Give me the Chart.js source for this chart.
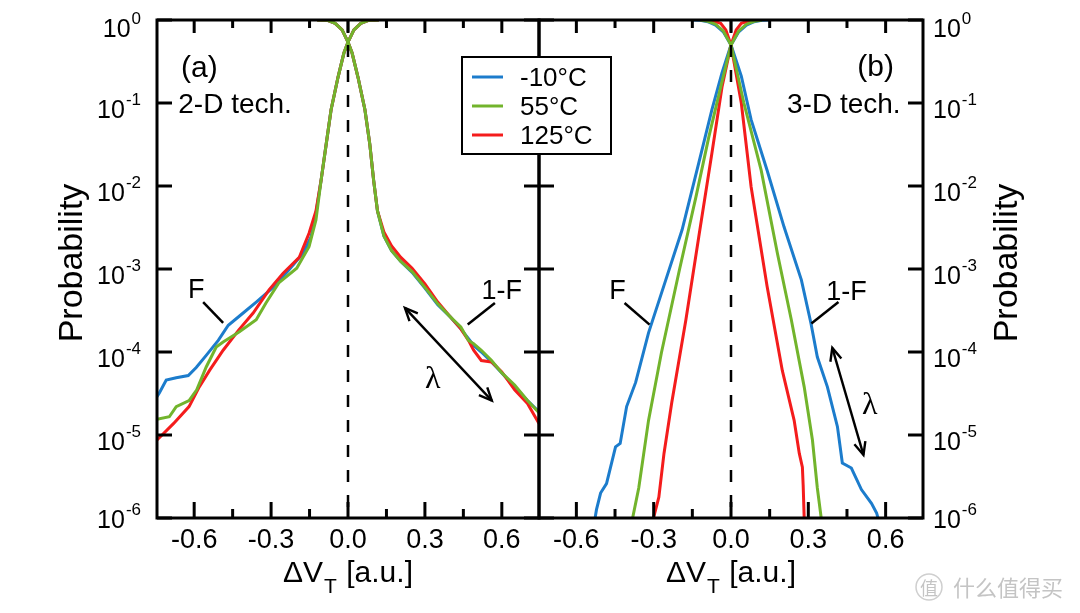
<!doctype html>
<html lang="en">
<head>
<meta charset="utf-8">
<title>Probability vs dVT, 2-D and 3-D tech</title>
<script src="https://cdn.jsdelivr.net/npm/chart.js"></script>
<style>
  body { margin: 0; background: #fff; }
  #wrap { position: relative; width: 1080px; height: 613px; }
  canvas { position: absolute; left: 0; top: 0; }
</style>
</head>
<body>
<div id="wrap">
  <canvas id="chart2d" width="1080" height="613"></canvas>
  <canvas id="chart3d" width="1080" height="613"></canvas>
</div>
<script>
// --- data: [dVT, probability] ---
const temps = ['-10°C', '55°C', '125°C'];
const lineColors = ['#1c7ccc', '#72b42c', '#f41c1c'];
const yTickValues = [1e-6, 1e-5, 1e-4, 1e-3, 1e-2, 1e-1, 1];
const yTickExps = ['-6', '-5', '-4', '-3', '-2', '-1', '0'];
const xMajorTicks = [-0.6, -0.3, 0, 0.3, 0.6];
const xTickLabels = ['-0.6', '-0.3', '0.0', '0.3', '0.6'];
const xMinorTicks = [-0.45, -0.15, 0.15, 0.45];

// (a) 2-D tech, F
const f2dCold = [[-0.745, 2.9e-5], [-0.736, 3.2e-5], [-0.709, 4.6e-5], [-0.67, 4.9e-5], [-0.623, 5.2e-5], [-0.592, 6.5e-5], [-0.553, 9.1e-5], [-0.506, 1.38e-4], [-0.467, 2.1e-4], [-0.409, 2.95e-4], [-0.358, 4.0e-4], [-0.292, 6.0e-4], [-0.23, 9.8e-4], [-0.175, 1.55e-3], [-0.144, 2.45e-3], [-0.125, 4.7e-3], [-0.105, 1.17e-2], [-0.085, 3.2e-2], [-0.066, 8.3e-2], [-0.039, 0.204], [-0.016, 0.40], [0, 0.54], [0.023, 0.76], [0.05, 0.91], [0.08, 0.99], [0.12, 1]];
const f2dMid = [[-0.745, 1.55e-5], [-0.697, 1.66e-5], [-0.67, 2.2e-5], [-0.62, 2.6e-5], [-0.59, 3.5e-5], [-0.553, 6.6e-5], [-0.514, 1.15e-4], [-0.487, 1.32e-4], [-0.425, 1.74e-4], [-0.358, 2.45e-4], [-0.32, 3.9e-4], [-0.27, 6.8e-4], [-0.2, 1.02e-3], [-0.152, 1.86e-3], [-0.125, 3.9e-3], [-0.105, 1.17e-2], [-0.085, 3.2e-2], [-0.066, 8.3e-2], [-0.039, 0.204], [-0.016, 0.40], [0, 0.54], [0.023, 0.76], [0.05, 0.91], [0.08, 0.99], [0.12, 1]];
const f2dHot = [[-0.745, 8.7e-6], [-0.68, 1.38e-5], [-0.62, 2.2e-5], [-0.58, 3.8e-5], [-0.54, 6.0e-5], [-0.487, 1.05e-4], [-0.425, 1.86e-4], [-0.37, 2.95e-4], [-0.308, 5.6e-4], [-0.253, 8.9e-4], [-0.19, 1.38e-3], [-0.152, 2.7e-3], [-0.125, 5.0e-3], [-0.105, 1.17e-2], [-0.085, 3.2e-2], [-0.066, 8.3e-2], [-0.039, 0.204], [-0.016, 0.40], [0, 0.54], [0.023, 0.76], [0.05, 0.91], [0.08, 0.99], [0.12, 1]];
// (a) 2-D tech, 1-F
const g2dCold = [[-0.12, 1], [-0.08, 0.99], [-0.05, 0.91], [-0.023, 0.76], [0, 0.54], [0.016, 0.40], [0.039, 0.204], [0.066, 8.3e-2], [0.085, 3.2e-2], [0.1, 1.17e-2], [0.115, 5.0e-3], [0.14, 2.5e-3], [0.17, 1.66e-3], [0.206, 1.23e-3], [0.25, 9.1e-4], [0.3, 5.9e-4], [0.35, 3.7e-4], [0.4, 2.63e-4], [0.44, 1.9e-4], [0.47, 1.45e-4], [0.49, 1.2e-4], [0.52, 1.0e-4], [0.56, 7.6e-5], [0.6, 5.6e-5], [0.65, 3.8e-5], [0.7, 2.6e-5], [0.745, 1.9e-5]];
const g2dMid = [[-0.12, 1], [-0.08, 0.99], [-0.05, 0.91], [-0.023, 0.76], [0, 0.54], [0.016, 0.40], [0.039, 0.204], [0.066, 8.3e-2], [0.085, 3.2e-2], [0.1, 1.17e-2], [0.115, 5.0e-3], [0.14, 2.5e-3], [0.17, 1.66e-3], [0.206, 1.23e-3], [0.25, 9.3e-4], [0.3, 6.0e-4], [0.35, 3.8e-4], [0.4, 2.63e-4], [0.44, 2.0e-4], [0.47, 1.38e-4], [0.49, 1.26e-4], [0.52, 1.05e-4], [0.56, 7.9e-5], [0.6, 5.6e-5], [0.65, 4.0e-5], [0.7, 2.6e-5], [0.745, 1.86e-5]];
const g2dHot = [[-0.12, 1], [-0.08, 0.99], [-0.05, 0.91], [-0.023, 0.76], [0, 0.54], [0.016, 0.40], [0.039, 0.204], [0.066, 8.3e-2], [0.085, 3.2e-2], [0.1, 1.17e-2], [0.115, 5.0e-3], [0.14, 2.8e-3], [0.17, 1.9e-3], [0.206, 1.38e-3], [0.25, 1.02e-3], [0.3, 6.6e-4], [0.35, 4.0e-4], [0.4, 2.63e-4], [0.44, 1.9e-4], [0.47, 1.38e-4], [0.49, 1.05e-4], [0.52, 7.9e-5], [0.56, 7.6e-5], [0.6, 5.75e-5], [0.65, 3.5e-5], [0.7, 2.4e-5], [0.745, 1.38e-5]];

// (b) 3-D tech, F
const f3dCold = [[-0.53, 8.9e-7], [-0.522, 1.26e-6], [-0.506, 2.0e-6], [-0.483, 2.6e-6], [-0.448, 7.2e-6], [-0.43, 7.9e-6], [-0.405, 2.2e-5], [-0.37, 4.3e-5], [-0.32, 1.7e-4], [-0.253, 7.4e-4], [-0.19, 2.95e-3], [-0.125, 1.9e-2], [-0.074, 8.3e-2], [-0.035, 0.23], [0, 0.50], [0.03, 0.72], [0.06, 0.87], [0.09, 0.955], [0.12, 0.99], [0.15, 1]];
const f3dMid = [[-0.385, 8.9e-7], [-0.358, 2.3e-6], [-0.32, 1.5e-5], [-0.27, 9.8e-5], [-0.2, 9.8e-4], [-0.136, 7.4e-3], [-0.086, 3.9e-2], [-0.04, 0.155], [0, 0.50], [0.03, 0.74], [0.06, 0.89], [0.09, 0.966], [0.12, 1]];
const f3dHot = [[-0.305, 8.9e-7], [-0.28, 1.78e-6], [-0.26, 6.0e-6], [-0.23, 2.45e-5], [-0.175, 2.45e-4], [-0.125, 2.45e-3], [-0.074, 2.5e-2], [-0.035, 0.155], [0, 0.50], [0.02, 0.76], [0.04, 0.91], [0.07, 0.98], [0.1, 1]];
// (b) 3-D tech, 1-F
const g3dCold = [[-0.15, 1], [-0.12, 0.99], [-0.09, 0.955], [-0.06, 0.87], [-0.03, 0.72], [0, 0.50], [0.04, 0.21], [0.078, 6.3e-2], [0.14, 1.55e-2], [0.206, 3.2e-3], [0.273, 7.4e-4], [0.31, 2.24e-4], [0.335, 8.7e-5], [0.374, 3.8e-5], [0.413, 1.26e-5], [0.432, 4.6e-6], [0.467, 4.0e-6], [0.506, 2.2e-6], [0.545, 1.5e-6], [0.565, 1.15e-6], [0.575, 8.9e-7]];
const g3dMid = [[-0.12, 1], [-0.09, 0.966], [-0.06, 0.89], [-0.03, 0.74], [0, 0.50], [0.05, 0.10], [0.117, 1.55e-2], [0.18, 1.55e-3], [0.234, 2.45e-4], [0.284, 3.8e-5], [0.316, 8.7e-6], [0.335, 2.3e-6], [0.35, 1.0e-6], [0.355, 8.9e-7]];
const g3dHot = [[-0.1, 1], [-0.07, 0.98], [-0.04, 0.91], [-0.02, 0.76], [0, 0.50], [0.04, 0.10], [0.078, 9.8e-3], [0.14, 6.2e-4], [0.199, 6.0e-5], [0.245, 1.5e-5], [0.265, 6.0e-6], [0.277, 4.1e-6], [0.28, 2.5e-6], [0.284, 1.0e-6], [0.286, 8.9e-7]];

const sans = '"Liberation Sans", Arial, Helvetica, sans-serif';
const serif = '"Liberation Serif", "Times New Roman", serif';

function text(ctx, s, x, y, size, align, font) {
  ctx.font = size + 'px ' + (font || sans);
  ctx.textAlign = align || 'left';
  ctx.textBaseline = 'alphabetic';
  ctx.fillText(s, x, y);
}

function line(ctx, x1, y1, x2, y2) {
  ctx.beginPath();
  ctx.moveTo(x1, y1);
  ctx.lineTo(x2, y2);
  ctx.stroke();
}

function arrow(ctx, x1, y1, x2, y2) {
  line(ctx, x1, y1, x2, y2);
  [[x1, y1, x2, y2], [x2, y2, x1, y1]].forEach(([ax, ay, bx, by]) => {
    const a = Math.atan2(ay - by, ax - bx), L = 14, s = 0.42;
    ctx.beginPath();
    ctx.moveTo(ax - L * Math.cos(a - s), ay - L * Math.sin(a - s));
    ctx.lineTo(ax, ay);
    ctx.lineTo(ax - L * Math.cos(a + s), ay - L * Math.sin(a + s));
    ctx.stroke();
  });
}

// frame, inward ticks, labels and notes for one panel
const decor = {
  id: 'decor',
  afterDraw(chart, args, o) {
    const ctx = chart.ctx, ca = chart.chartArea;
    const xs = chart.scales.x, ys = chart.scales.y;
    const px = v => xs.getPixelForValue(v), py = v => ys.getPixelForValue(v);
    ctx.save();
    ctx.strokeStyle = '#000';
    ctx.fillStyle = '#000';
    ctx.lineCap = 'butt';

    // dashed zero line
    ctx.lineWidth = 2.5;
    ctx.setLineDash([12, 13]);
    line(ctx, px(0), ca.top, px(0), ca.bottom);
    ctx.setLineDash([]);

    // frame
    ctx.lineWidth = 3;
    ctx.strokeRect(ca.left, ca.top, ca.right - ca.left, ca.bottom - ca.top);

    // y ticks, both sides, inward
    yTickValues.forEach(v => {
      const y = py(v);
      line(ctx, ca.left, y, ca.left + 15, y);
      line(ctx, ca.right, y, ca.right - 15, y);
    });
    // x ticks, top and bottom, inward
    xMajorTicks.forEach(v => {
      line(ctx, px(v), ca.bottom, px(v), ca.bottom - 16);
      line(ctx, px(v), ca.top, px(v), ca.top + 13);
    });
    xMinorTicks.forEach(v => {
      line(ctx, px(v), ca.bottom, px(v), ca.bottom - 9);
      line(ctx, px(v), ca.top, px(v), ca.top + 8);
    });

    // y tick labels 10^n
    yTickValues.forEach((v, i) => {
      const y = py(v) + (i === 0 ? 1 : i === yTickValues.length - 1 ? 8 : 6) + 9;
      ctx.font = '25px ' + sans;
      const w10 = ctx.measureText('10').width;
      ctx.font = '17px ' + sans;
      const we = ctx.measureText(yTickExps[i]).width;
      const x0 = o.side === 'left' ? ca.left - 17 - w10 - we : ca.right + 10;
      text(ctx, '10', x0, y, 25);
      text(ctx, yTickExps[i], x0 + w10 + 1, y - 13, 17);
    });

    // x tick labels
    xMajorTicks.forEach((v, i) => text(ctx, xTickLabels[i], px(v), ca.bottom + 30, 27, 'center'));

    // x title: dV_T [a.u.]
    const cx = (ca.left + ca.right) / 2, by = ca.bottom + 64;
    ctx.font = '30px ' + sans;
    const w1 = ctx.measureText('\u0394V').width, w3 = ctx.measureText(' [a.u.]').width;
    ctx.font = '21px ' + sans;
    const w2 = ctx.measureText('T').width + 2;
    const tx = cx - (w1 + w2 + w3) / 2;
    text(ctx, '\u0394V', tx, by, 30);
    text(ctx, 'T', tx + w1 + 1, by + 11, 21);
    text(ctx, ' [a.u.]', tx + w1 + w2, by, 30);

    // y title
    ctx.save();
    ctx.translate(o.side === 'left' ? 82 : 1017, 263);
    ctx.rotate(-Math.PI / 2);
    text(ctx, 'Probability', 0, 0, 34, 'center');
    ctx.restore();

    // panel tag and technology
    text(ctx, o.tag[0], px(o.tag[1]), py(o.tag[2]) + 10, 30, 'center');
    text(ctx, o.tech[0], px(o.tech[1]), py(o.tech[2]) + 9, 28, o.side === 'left' ? 'left' : 'right');

    // F and 1-F notes with leader lines
    ctx.lineWidth = 2.5;
    [o.fNote, o.gNote].forEach(n => {
      text(ctx, n.label, px(n.at[0]), py(n.at[1]) + 10, 27, 'center');
      line(ctx, px(n.from[0]), py(n.from[1]), px(n.to[0]), py(n.to[1]));
    });

    // lambda arrow
    ctx.lineWidth = 2.4;
    arrow(ctx, px(o.arrow[0]), py(o.arrow[1]), px(o.arrow[2]), py(o.arrow[3]));
    text(ctx, '\u03bb', px(o.lambda[0]), py(o.lambda[1]) + 11, 32, 'center', serif);

    // legend spans both panels, drawn on the upper canvas
    if (o.legend) {
      const bx = ca.left - 77, bt = ca.top + 37;
      ctx.fillStyle = '#fff';
      ctx.fillRect(bx, bt, 149, 97);
      ctx.lineWidth = 2;
      ctx.strokeRect(bx, bt, 149, 97);
      temps.forEach((t, i) => {
        const ry = bt + 20 + i * 29;
        ctx.strokeStyle = lineColors[i];
        ctx.lineWidth = 3;
        line(ctx, bx + 10, ry, bx + 41, ry);
        ctx.fillStyle = '#000';
        text(ctx, t, bx + 58, ry + 9, 26);
      });
    }

    // site watermark
    if (o.watermark) {
      ctx.strokeStyle = '#cfcfcf';
      ctx.fillStyle = '#c4c4c4';
      ctx.lineWidth = 1.5;
      ctx.beginPath();
      ctx.arc(929, 587, 13, 0, Math.PI * 2);
      ctx.stroke();
      text(ctx, '\u503c', 929, 595, 18, 'center', '"Noto Sans CJK SC", sans-serif');
      text(ctx, '\u4ec0\u4e48\u503c\u5f97\u4e70', 953, 596, 22, 'left', '"Noto Sans CJK SC", sans-serif');
    }
    ctx.restore();
  }
};

// draw order: green on top, then red, then blue
const drawOrder = [2, 0, 1];

function makeDatasets(fList, gList) {
  const sets = [];
  [fList, gList].forEach((list, k) => {
    list.forEach((pts, i) => {
      sets.push({
        label: temps[i] + (k === 0 ? ' F' : ' 1-F'),
        data: pts.map(p => ({ x: p[0], y: p[1] })),
        borderColor: lineColors[i],
        borderWidth: 3,
        pointRadius: 0,
        tension: 0,
        fill: false,
        order: drawOrder[i]
      });
    });
  });
  return sets;
}

function makeChart(id, fList, gList, side, note) {
  return new Chart(document.getElementById(id), {
    type: 'line',
    data: { datasets: makeDatasets(fList, gList) },
    options: {
      responsive: false,
      animation: false,
      events: [],
      layout: { padding: side === 'left' ? { left: 0, right: 541, top: 20, bottom: 0 } : { left: 539, right: 0, top: 20, bottom: 0 } },
      plugins: { legend: { display: false }, tooltip: { enabled: false }, decor: note },
      scales: {
        x: {
          type: 'linear', min: -0.745, max: 0.745,
          ticks: { display: false }, grid: { display: false }, border: { display: false },
          afterFit: s => { s.height = 95; }
        },
        y: {
          type: 'logarithmic', position: side, min: 1e-6, max: 1,
          ticks: { display: false }, grid: { display: false }, border: { display: false },
          afterFit: s => { s.width = 157; }
        }
      }
    },
    plugins: [decor]
  });
}

makeChart('chart2d', [f2dCold, f2dMid, f2dHot], [g2dCold, g2dMid, g2dHot], 'left', {
  side: 'left',
  tag: ['(a)', -0.58, 0.27],
  tech: ['2-D tech.', -0.662, 0.098],
  fNote: { label: 'F', at: [-0.592, 5.9e-4], from: [-0.565, 4.0e-4], to: [-0.487, 2.24e-4] },
  gNote: { label: '1-F', at: [0.6, 5.75e-4], from: [0.573, 3.9e-4], to: [0.467, 2.14e-4] },
  arrow: [0.222, 3.4e-4, 0.561, 2.6e-5],
  lambda: [0.331, 5.0e-5]
});

makeChart('chart3d', [f3dCold, f3dMid, f3dHot], [g3dCold, g3dMid, g3dHot], 'right', {
  side: 'right',
  tag: ['(b)', 0.561, 0.28],
  tech: ['3-D tech.', 0.658, 0.098],
  fNote: { label: 'F', at: [-0.44, 5.75e-4], from: [-0.413, 3.9e-4], to: [-0.316, 2.14e-4] },
  gNote: { label: '1-F', at: [0.448, 5.6e-4], from: [0.417, 4.0e-4], to: [0.312, 2.2e-4] },
  arrow: [0.393, 1.12e-4, 0.514, 5.75e-6],
  lambda: [0.538, 2.45e-5],
  legend: true,
  watermark: true
});
</script>
</body>
</html>
